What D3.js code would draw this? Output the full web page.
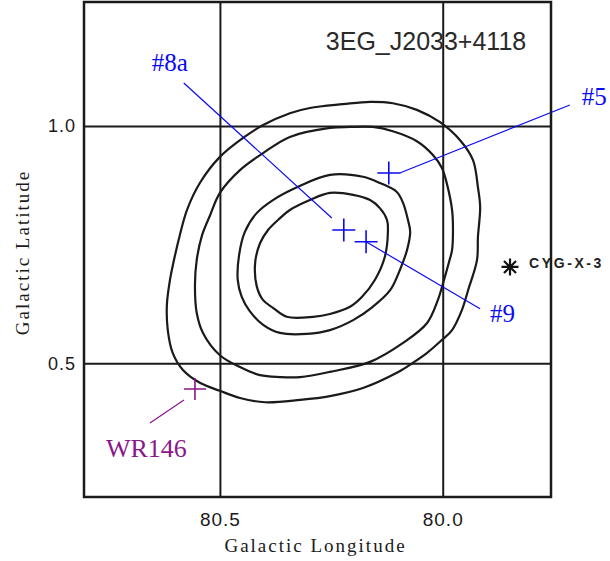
<!DOCTYPE html>
<html>
<head>
<meta charset="utf-8">
<script src="https://cdn.jsdelivr.net/npm/d3@7"></script>
<style>
  html, body { margin: 0; padding: 0; background: #fff; }
  svg { display: block; }
</style>
</head>
<body>
<svg id="chart" width="610" height="561"></svg>
<script>
// Source name shown in the corner of the map
const mapTitle = "3EG_J2033+4118";

// Position-likelihood contours, [galactic longitude, galactic latitude] in degrees
const contourOuter = [
  [80.545,0.880],[80.574,0.823],[80.590,0.770],[80.603,0.718],[80.612,0.676],[80.619,0.623],
  [80.617,0.570],[80.606,0.522],[80.583,0.486],[80.545,0.459],[80.500,0.442],[80.455,0.427],
  [80.399,0.418],[80.320,0.423],[80.253,0.431],[80.179,0.448],[80.103,0.480],[80.067,0.501],
  [80.035,0.522],[80.002,0.549],[79.979,0.570],[79.957,0.612],[79.943,0.654],[79.923,0.718],
  [79.921,0.766],[79.916,0.829],[79.921,0.871],[79.932,0.928],[79.961,0.970],[80.006,1.008],
  [80.058,1.034],[80.112,1.048],[80.163,1.051],[80.224,1.046],[80.298,1.038],[80.343,1.027],
  [80.403,1.002],[80.448,0.975],[80.500,0.935]
];
const contour95 = [
  [80.253,0.996],[80.208,0.998],[80.157,0.998],[80.112,0.989],[80.058,0.968],[80.022,0.939],
  [80.002,0.912],[79.990,0.876],[79.979,0.823],[79.977,0.785],[79.979,0.739],[79.986,0.713],
  [79.997,0.676],[80.011,0.633],[80.035,0.585],[80.089,0.543],[80.163,0.503],[80.253,0.482],
  [80.320,0.471],[80.365,0.471],[80.410,0.475],[80.455,0.492],[80.500,0.517],[80.538,0.564],
  [80.552,0.606],[80.556,0.665],[80.552,0.718],[80.540,0.770],[80.522,0.812],[80.500,0.859],
  [80.455,0.907],[80.403,0.943],[80.343,0.977]
];
const contour68 = [
  [80.253,0.897],[80.179,0.893],[80.141,0.880],[80.103,0.861],[80.089,0.838],[80.078,0.802],
  [80.073,0.777],[80.080,0.739],[80.096,0.697],[80.118,0.654],[80.157,0.619],[80.201,0.591],
  [80.253,0.570],[80.305,0.562],[80.365,0.564],[80.403,0.581],[80.433,0.610],[80.451,0.640],
  [80.460,0.676],[80.457,0.728],[80.444,0.777],[80.417,0.817],[80.381,0.844],[80.327,0.871]
];
const contour50 = [
  [80.253,0.859],[80.201,0.855],[80.163,0.844],[80.141,0.827],[80.125,0.802],[80.123,0.777],
  [80.130,0.724],[80.152,0.676],[80.181,0.640],[80.208,0.619],[80.253,0.604],[80.291,0.598],
  [80.350,0.598],[80.381,0.617],[80.403,0.633],[80.417,0.661],[80.421,0.711],[80.410,0.753],
  [80.392,0.781],[80.365,0.806],[80.343,0.823],[80.298,0.844]
];

// Candidate counterparts (blue crosses)
const candNames = ["#8a", "#9", "#5"];
const candLon = [80.222, 80.172, 80.121];
const candLat = [0.781, 0.756, 0.901];

// Wolf-Rayet star (purple cross)
const wrNames = ["WR146"];
const wrLon = [80.556];
const wrLat = [0.446];

// X-ray binary (asterisk)
const xrbNames = ["CYG-X-3"];
const xrbLon = [79.849];
const xrbLat = [0.703];

// Axis ticks and titles
const lonTicks = [80.5, 80.0];
const latTicks = [0.5, 1.0];
const xTitle = "Galactic Longitude";
const yTitle = "Galactic Latitude";

// ---- layout ----
const svg = d3.select("#chart");
const plotLeft = 84, plotRight = 551, plotTop = 2, plotBottom = 497;
const plotW = plotRight - plotLeft, plotH = plotBottom - plotTop;

// Longitude grows to the left, as on the sky
const x = d3.scaleLinear().domain([80.805, 79.757]).range([plotLeft, plotRight]);
const y = d3.scaleLinear().domain([0.2183, 1.2613]).range([plotBottom, plotTop]);

const ink = "#1a1a1a";
const blue = "#0a0af5";
const purple = "#8a168a";

// Grid lines and tick labels from the axes
const xAxis = svg.append("g")
  .attr("transform", `translate(0,${plotBottom})`)
  .call(d3.axisBottom(x).tickValues(lonTicks).tickFormat(d3.format(".1f"))
        .tickSize(-plotH).tickPadding(16));
const yAxis = svg.append("g")
  .attr("transform", `translate(${plotLeft},0)`)
  .call(d3.axisLeft(y).tickValues(latTicks).tickFormat(d3.format(".1f"))
        .tickSize(-plotW).tickPadding(8));
[xAxis, yAxis].forEach(g => {
  g.select(".domain").remove();
  g.selectAll(".tick line").attr("stroke", ink).attr("stroke-width", 2);
  g.selectAll(".tick text")
    .attr("fill", ink)
    .style("font-family", "'Liberation Sans', Arial, sans-serif")
    .style("letter-spacing", "1px");
});
xAxis.selectAll(".tick text").style("font-size", "19px");
yAxis.selectAll(".tick text").style("font-size", "18px");

// Axis titles
svg.append("text")
  .attr("x", (plotLeft + plotRight) / 2 - 2).attr("y", 552)
  .attr("text-anchor", "middle")
  .attr("fill", ink)
  .style("font-family", "'Liberation Serif', 'Times New Roman', serif")
  .style("font-size", "19px").style("letter-spacing", "2px")
  .text(xTitle);
svg.append("text")
  .attr("transform", `translate(29,${(plotTop + plotBottom) / 2 + 3}) rotate(-90)`)
  .attr("text-anchor", "middle")
  .attr("fill", ink)
  .style("font-family", "'Liberation Serif', 'Times New Roman', serif")
  .style("font-size", "19px").style("letter-spacing", "2px")
  .text(yTitle);

// Contours
const line = d3.line()
  .x(d => x(d[0])).y(d => y(d[1]))
  .curve(d3.curveCatmullRomClosed.alpha(0.5));
svg.append("g")
  .selectAll("path")
  .data([contourOuter, contour95, contour68, contour50])
  .join("path")
  .attr("d", line)
  .attr("fill", "none")
  .attr("stroke", ink)
  .attr("stroke-width", 2.2);

// Map title
svg.append("text")
  .attr("x", 426).attr("y", 50)
  .attr("text-anchor", "middle")
  .attr("fill", "#2a2a2a")
  .style("font-family", "'Liberation Sans', Arial, sans-serif")
  .style("font-size", "25px")
  .text(mapTitle);

// Cross marker path centred on a point
const crossPath = (cx, cy, r) => `M${cx - r},${cy}H${cx + r}M${cx},${cy - r}V${cy + r}`;

// Leader-line and label offsets (pixels from the marker)
const candLayout = {
  "#8a": { from: [-12, -12], to: [-160, -147], text: [-174, -159], anchor: "middle" },
  "#9":  { from: [0, 0],     to: [114, 67],    text: [124, 80],    anchor: "start" },
  "#5":  { from: [11, 0],    to: [181, -68],   text: [193, -68],   anchor: "start" }
};
const wrLayout = { from: [-11, 11], to: [-45, 34], text: [-89, 68], anchor: "start" };

const labelFont = "'Liberation Serif', 'Times New Roman', serif";

const cands = candNames.map((n, i) => ({ name: n, lon: candLon[i], lat: candLat[i] }));
const cg = svg.append("g");
cands.forEach(c => {
  const px = x(c.lon), py = y(c.lat), L = candLayout[c.name];
  cg.append("path").attr("d", crossPath(px, py, 11.5))
    .attr("stroke", blue).attr("stroke-width", 1.6).attr("fill", "none");
  cg.append("line")
    .attr("x1", px + L.from[0]).attr("y1", py + L.from[1])
    .attr("x2", px + L.to[0]).attr("y2", py + L.to[1])
    .attr("stroke", blue).attr("stroke-width", 1.2);
  cg.append("text")
    .attr("x", px + L.text[0]).attr("y", py + L.text[1])
    .attr("text-anchor", L.anchor)
    .attr("fill", blue)
    .style("font-family", labelFont).style("font-size", "25px")
    .text(c.name);
});

const wg = svg.append("g");
wrNames.forEach((n, i) => {
  const px = x(wrLon[i]), py = y(wrLat[i]), L = wrLayout;
  wg.append("path").attr("d", crossPath(px, py, 11))
    .attr("stroke", purple).attr("stroke-width", 1.6).attr("fill", "none");
  wg.append("line")
    .attr("x1", px + L.from[0]).attr("y1", py + L.from[1])
    .attr("x2", px + L.to[0]).attr("y2", py + L.to[1])
    .attr("stroke", purple).attr("stroke-width", 1.2);
  wg.append("text")
    .attr("x", px + L.text[0]).attr("y", py + L.text[1])
    .attr("text-anchor", L.anchor)
    .attr("fill", purple)
    .style("font-family", labelFont).style("font-size", "26px")
    .text(n);
});

// Asterisk marker and label for the X-ray binary
const xg = svg.append("g");
xrbNames.forEach((n, i) => {
  const px = x(xrbLon[i]), py = y(xrbLat[i]), r = 8.5, d = r * Math.SQRT1_2;
  xg.append("path")
    .attr("d", `M${px - r},${py}H${px + r}M${px},${py - r}V${py + r}` +
               `M${px - d},${py - d}L${px + d},${py + d}M${px - d},${py + d}L${px + d},${py - d}`)
    .attr("stroke", "#111").attr("stroke-width", 2.2).attr("fill", "none");
  xg.append("text")
    .attr("x", px + 19).attr("y", py + 1)
    .attr("fill", "#222")
    .style("font-family", "'Liberation Sans', Arial, sans-serif")
    .style("font-weight", "bold")
    .style("font-size", "14px").style("letter-spacing", "2.6px")
    .text(n);
});

// Frame around the map
svg.append("rect")
  .attr("x", plotLeft).attr("y", plotTop)
  .attr("width", plotW).attr("height", plotH)
  .attr("fill", "none")
  .attr("stroke", ink).attr("stroke-width", 2.5);
</script>
</body>
</html>
